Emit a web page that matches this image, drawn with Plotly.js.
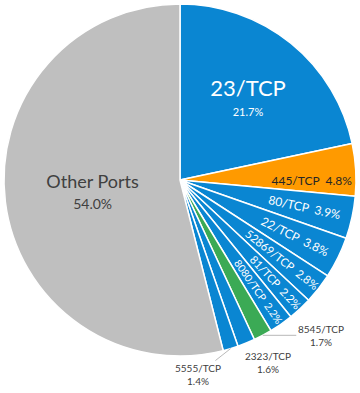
<!DOCTYPE html>
<html>
<head>
<meta charset="utf-8">
<script src="https://cdn.plot.ly/plotly-3.0.1.min.js"></script>
<style>html,body{margin:0;padding:0;background:#fff;}#chart{width:360px;height:393px;}</style>
</head>
<body>
<div id="chart"></div>
<script>
var labels = ['23/TCP','445/TCP','80/TCP','22/TCP','52869/TCP','81/TCP','8080/TCP','8545/TCP','2323/TCP','5555/TCP','Other Ports'];
var values = [21.7, 4.8, 3.9, 3.8, 2.8, 2.2, 2.2, 1.7, 1.6, 1.4, 54.0];
var colors = ['#0A86D2','#FF9A00','#0A86D2','#0A86D2','#0A86D2','#0A86D2','#0A86D2','#3BAA55','#0A86D2','#0A86D2','#BFBFBF'];
// label style groups: 'big' (horizontal, two lines), 'radial' (inside along radius), 'out' (outside with note)
var labelKind = ['big','radial','radial','radial','radial','radial','radial','out','out','out','big'];

var FONT = 'Lato, "Open Sans", sans-serif';
function pct(v){ return v.toFixed(1) + '%'; }

var bigText = labels.map(function(l,i){
  if (labelKind[i] !== 'big') return '';
  if (l === 'Other Ports') return '<span style="font-size:18px">' + l + '</span><br>' + '<span style="font-size:14px">' + pct(values[i]) + '</span>';
  return '<span style="font-size:22px">' + l + '</span><br>' + '<span style="font-size:11px">' + pct(values[i]) + '</span>';
});
var bigColors = labels.map(function(l){ return l === 'Other Ports' ? '#404040' : '#FFFFFF'; });

var radText = labels.map(function(l,i){
  return labelKind[i] === 'radial' ? l + '\u00a0\u00a0' + pct(values[i]) : '';
});
var radColors = labels.map(function(l){ return l === '445/TCP' ? '#262626' : '#FFFFFF'; });

var base = {
  type: 'pie', labels: labels, values: values, sort: false, direction: 'clockwise',
  rotation: 0, domain: {x:[0,1], y:[0,1]}, hoverinfo: 'skip', showlegend: false,
  textinfo: 'text', textposition: 'inside'
};

var t1 = Object.assign({}, base, {
  text: bigText,
  marker: {colors: colors, line: {color: '#FFFFFF', width: 1.5}},
  insidetextorientation: 'horizontal',
  textfont: {family: FONT, size: 16, color: bigColors}
});
var t2 = Object.assign({}, base, {
  text: radText,
  marker: {colors: labels.map(function(){return 'rgba(0,0,0,0)';}), line: {width: 0}},
  insidetextorientation: 'radial',
  textfont: {family: FONT, size: 12, color: radColors}
});

// outside labels: anchor tip computed from slice mid-angle
var total = values.reduce(function(a,b){return a+b;},0);
var offsets = {'8545/TCP':[58,0,true], '2323/TCP':[22,19,false], '5555/TCP':[-33,26,true]};
var annotations = [];
var cum = 0;
values.forEach(function(v,i){
  var th = 2*Math.PI*(cum + v/2)/total;
  cum += v;
  if (labelKind[i] !== 'out') return;
  var o = offsets[labels[i]];
  var ann = {
    xref:'paper', yref:'paper', x: 0.5 + 0.5*Math.sin(th), y: 0.5 + 0.5*Math.cos(th),
    text: labels[i] + '<br>' + pct(v), align:'center',
    font: {family: FONT, size: 10, color: '#404040'}
  };
  if (o[2]) {
    ann.showarrow = true; ann.arrowhead = 0; ann.arrowwidth = 0.8; ann.arrowcolor = '#A6A6A6';
    ann.ax = o[0]; ann.ay = o[1];
  } else {
    ann.showarrow = false; ann.xanchor = 'center'; ann.yanchor = 'middle';
    ann.xshift = o[0]; ann.yshift = -o[1];
  }
  annotations.push(ann);
});

var layout = {
  width: 360, height: 393,
  margin: {l:4, r:4, t:4, b:37},
  paper_bgcolor: '#FFFFFF',
  showlegend: false,
  annotations: annotations,
  font: {family: FONT}
};
Plotly.newPlot('chart', [t1, t2], layout, {displayModeBar: false, staticPlot: true});
</script>
</body>
</html>
